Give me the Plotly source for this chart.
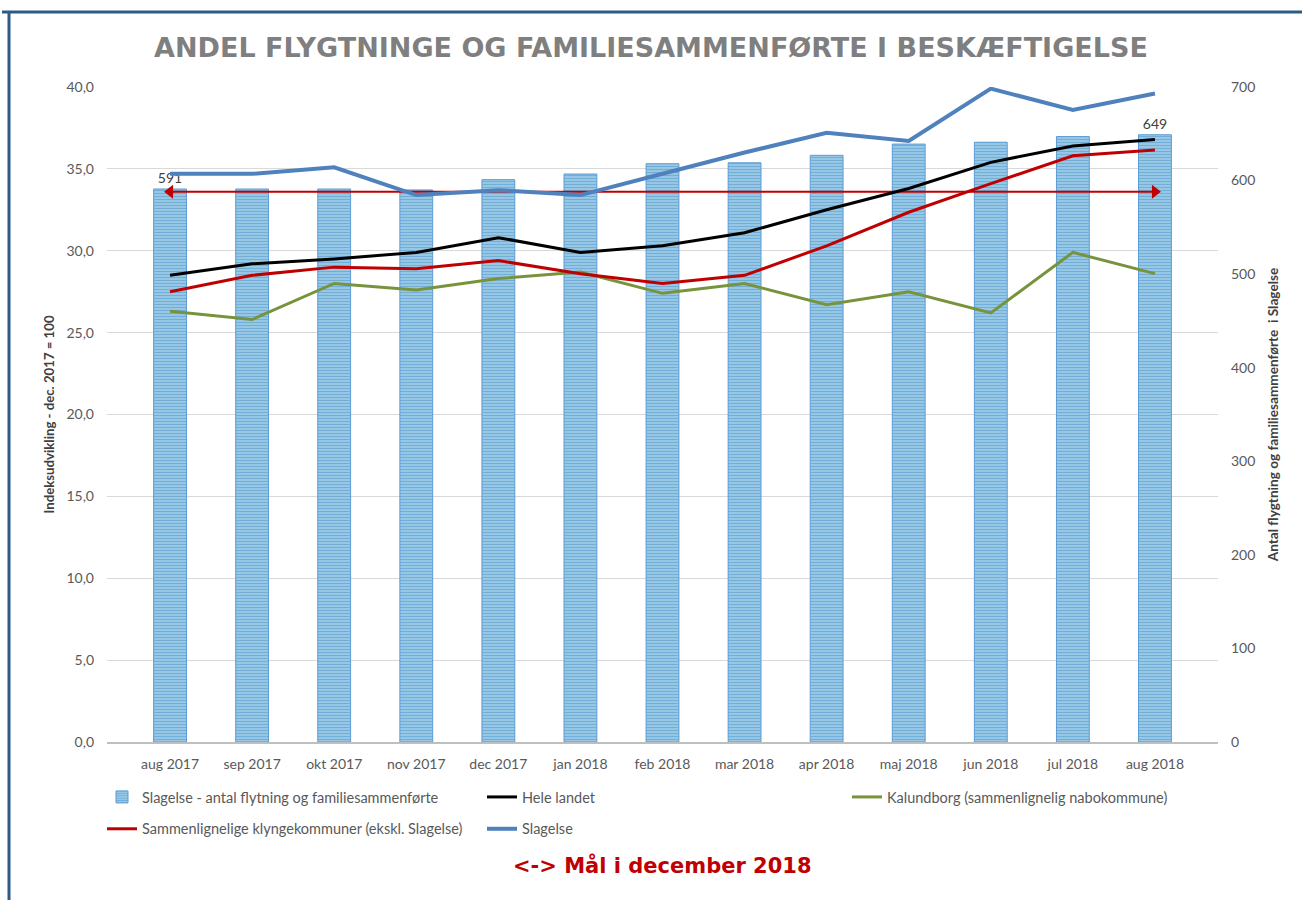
import plotly.graph_objects as go

categories = ["aug 2017", "sep 2017", "okt 2017", "nov 2017", "dec 2017", "jan 2018",
              "feb 2018", "mar 2018", "apr 2018", "maj 2018", "jun 2018", "jul 2018", "aug 2018"]
antal_slagelse = [591, 591, 591, 590, 601, 607, 618, 619, 627, 639, 641, 647, 649]
hele_landet = [28.5, 29.2, 29.5, 29.9, 30.8, 29.9, 30.3, 31.1, 32.5, 33.8, 35.4, 36.4, 36.8]
kalundborg = [26.3, 25.8, 28.0, 27.6, 28.3, 28.7, 27.4, 28.0, 26.7, 27.5, 26.2, 29.9, 28.6]
klyngekommuner = [27.5, 28.5, 29.0, 28.9, 29.4, 28.6, 28.0, 28.5, 30.3, 32.35, 34.1, 35.8, 36.15]
slagelse = [34.7, 34.7, 35.1, 33.4, 33.7, 33.4, 34.7, 36.0, 37.2, 36.7, 39.9, 38.6, 39.6]
maal_dec_2018 = 33.6

bar_labels = [str(v) if i in (0, len(antal_slagelse) - 1) else "" for i, v in enumerate(antal_slagelse)]

FONT = "Lato"
TXT = "#595959"

fig = go.Figure()

fig.add_trace(go.Bar(
    x=categories, y=antal_slagelse, yaxis="y",
    name="Slagelse - antal flytning og familiesammenførte",
    marker=dict(color="#9ccde9", line=dict(color="#5b9bd5", width=1),
                pattern=dict(shape="-", fgcolor="#3f88c5", bgcolor="#a6d4ec", size=3, solidity=0.55)),
    text=bar_labels, textposition="outside", cliponaxis=False,
    outsidetextfont=dict(family=FONT, size=14, color="#404040"),
    legend="legend", legendgroup="a",
))

fig.add_trace(go.Scatter(
    x=[categories[0], categories[-1]], y=[maal_dec_2018, maal_dec_2018], yaxis="y2",
    mode="lines+markers", line=dict(color="#c00000", width=2),
    marker=dict(symbol=["triangle-left", "triangle-right"], size=12, color="#c00000"),
    showlegend=False, hoverinfo="skip",
))

fig.add_trace(go.Scatter(x=categories, y=hele_landet, yaxis="y2", mode="lines",
                         name="Hele landet", line=dict(color="#000000", width=3),
                         legend="legend2", legendgroup="c"))
fig.add_trace(go.Scatter(x=categories, y=kalundborg, yaxis="y2", mode="lines",
                         name="Kalundborg (sammenlignelig nabokommune)",
                         line=dict(color="#77933c", width=3),
                         legend="legend3", legendgroup="e"))
fig.add_trace(go.Scatter(x=categories, y=klyngekommuner, yaxis="y2", mode="lines",
                         name="Sammenlignelige klyngekommuner (ekskl. Slagelse)",
                         line=dict(color="#c00000", width=3),
                         legend="legend", legendgroup="b"))
fig.add_trace(go.Scatter(x=categories, y=slagelse, yaxis="y2", mode="lines",
                         name="Slagelse", line=dict(color="#4f81bd", width=4),
                         legend="legend2", legendgroup="d"))

L, R, T, B = 107, 84, 87, 158
W, H = 1302, 900
pw, ph = W - L - R, H - T - B


def px(x):
    return (x - L) / pw


def py(y):
    return (H - B - y) / ph


leg_common = dict(font=dict(family=FONT, size=14.5, color=TXT), bgcolor="rgba(0,0,0,0)",
                  orientation="v", traceorder="grouped", tracegroupgap=10,
                  xanchor="left", yanchor="top", itemwidth=30)

fig.update_layout(
    width=W, height=H,
    margin=dict(l=L, r=R, t=T, b=B, autoexpand=False),
    paper_bgcolor="white", plot_bgcolor="white",
    separators=", ",
    bargap=0.6,
    font=dict(family=FONT, size=14, color=TXT),
    title=dict(text="<b>ANDEL FLYGTNINGE OG FAMILIESAMMENFØRTE I BESKÆFTIGELSE</b>",
               x=0.5, xanchor="center", y=1 - 48 / H, yanchor="middle",
               font=dict(family="DejaVu Sans", size=27, color="#7f7f7f")),
    xaxis=dict(type="category", showgrid=False, showline=True, linecolor="#bfbfbf", linewidth=2,
               ticks="", tickfont=dict(family=FONT, size=14, color=TXT), ticklabelstandoff=8,
               automargin=False),
    yaxis=dict(side="right", range=[0, 700], dtick=100, showgrid=False, zeroline=False,
               tickfont=dict(family=FONT, size=14, color=TXT), ticklabelstandoff=12,
               title=dict(text="<b>Antal flygtning og familiesammenførte  i Slagelse</b>",
                          font=dict(family=FONT, size=13.6, color="#404040"), standoff=14),
               automargin=False),
    yaxis2=dict(side="left", overlaying="y", range=[0, 40], dtick=5, tickformat=".1f",
                showgrid=True, gridcolor="#d9d9d9", gridwidth=1, zeroline=False,
                tickfont=dict(family=FONT, size=14, color=TXT), ticklabelstandoff=12,
                title=dict(text="<b>Indeksudvikling - dec. 2017 = 100</b>",
                           font=dict(family=FONT, size=13.2, color="#404040"), standoff=8),
                automargin=False),
    legend=dict(x=px(102), y=py(781), **leg_common),
    legend2=dict(x=px(482), y=py(781), **leg_common),
    legend3=dict(x=px(847), y=py(781), **leg_common),
    annotations=[dict(text="<b>&lt;-&gt; Mål i december 2018</b>", xref="paper", yref="paper",
                      x=px(662), y=py(865), xanchor="center", yanchor="middle", showarrow=False,
                      font=dict(family="DejaVu Sans", size=21, color="#c00000"))],
    shapes=[
        dict(type="line", xref="paper", yref="paper", x0=px(2), x1=px(1302), y0=py(12), y1=py(12),
             line=dict(color="#2e5a88", width=3)),
        dict(type="line", xref="paper", yref="paper", x0=px(9), x1=px(9), y0=py(11), y1=py(900),
             line=dict(color="#2e5a88", width=3)),
    ],
    showlegend=True,
)

fig.write_html("out.html")
